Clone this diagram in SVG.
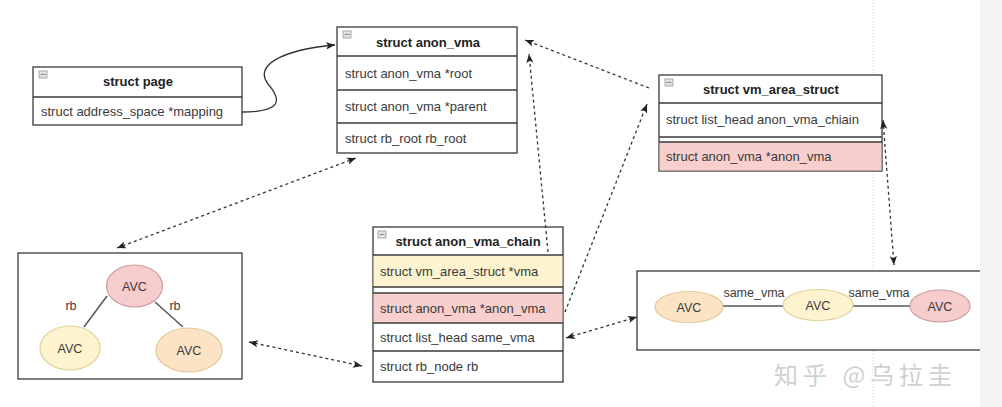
<svg xmlns="http://www.w3.org/2000/svg" width="1002" height="407" viewBox="0 0 1002 407">
<style>
.box{fill:#fff;stroke:#3a3a3a;stroke-width:1.3}
.sep{stroke:#3a3a3a;stroke-width:1.3;fill:none}
.yel{fill:#fdf3cf}
.pink{fill:#f8cfcd}
.ico{fill:#e2e2e2;stroke:#9a9a9a;stroke-width:0.8}
.t{font-family:"Liberation Sans",Arial,Helvetica,sans-serif;font-size:13px;fill:#3a3a3a}
.h{font-weight:bold;text-anchor:middle;fill:#222}
.c{text-anchor:middle;font-size:12.5px}
.conn{fill:none;stroke:#333;stroke-width:1.3;stroke-dasharray:3 3}
.solid{fill:none;stroke:#333;stroke-width:1.3}
.edge{stroke:#555;stroke-width:1.5}
.eo{fill:#fbe3c4;stroke:#e3c79a;stroke-width:1.2}
.ey{fill:#fdf3cf;stroke:#e0d296;stroke-width:1.2}
.er{fill:#f6cccc;stroke:#cf9c9c;stroke-width:1.2}
</style>
<defs>
<marker id="ah" viewBox="0 0 10 10" refX="10" refY="5" markerWidth="9" markerHeight="9" markerUnits="userSpaceOnUse" orient="auto-start-reverse">
<path d="M0,1 L10,5 L0,9 L2.5,5 Z" fill="#222"/>
</marker>
</defs>
<rect x="0" y="0" width="1002" height="407" fill="#fff"/>
<line x1="873" y1="0" x2="873" y2="407" stroke="#cfcfcf" stroke-width="1" stroke-dasharray="1 2"/>

<g id="page">
<rect class="box" x="33" y="67" width="209" height="58"/>
<line class="sep" x1="33" y1="97" x2="242" y2="97"/>
<rect class="ico" x="39" y="71" width="8" height="7"/><line x1="40.5" y1="74.5" x2="45.5" y2="74.5" stroke="#777" stroke-width="0.8"/>
<text class="t h" x="138" y="86">struct page</text>
<text class="t" x="41" y="116">struct address_space *mapping</text>
</g>

<g id="anon_vma">
<rect class="box" x="337" y="27" width="180" height="126"/>
<line class="sep" x1="337" y1="56" x2="517" y2="56"/>
<line class="sep" x1="337" y1="90" x2="517" y2="90"/>
<line class="sep" x1="337" y1="123" x2="517" y2="123"/>
<rect class="ico" x="343" y="31" width="8" height="7"/><line x1="344.5" y1="34.5" x2="349.5" y2="34.5" stroke="#777" stroke-width="0.8"/>
<text class="t h" x="428" y="47">struct anon_vma</text>
<text class="t" x="345" y="78">struct anon_vma *root</text>
<text class="t" x="345" y="111">struct anon_vma *parent</text>
<text class="t" x="345" y="143">struct rb_root rb_root</text>
</g>

<g id="vm_area_struct">
<rect class="box" x="659" y="75" width="223" height="96"/>
<rect class="pink" x="659.6" y="142" width="221.8" height="28.4"/>
<line class="sep" x1="659" y1="103" x2="882" y2="103"/>
<line class="sep" x1="659" y1="137" x2="882" y2="137"/>
<line class="sep" x1="659" y1="142" x2="882" y2="142"/>
<rect class="ico" x="665" y="79" width="8" height="7"/><line x1="666.5" y1="82.5" x2="671.5" y2="82.5" stroke="#777" stroke-width="0.8"/>
<text class="t h" x="771" y="94">struct vm_area_struct</text>
<text class="t" x="666" y="124">struct list_head anon_vma_chiain</text>
<text class="t" x="666" y="161">struct anon_vma *anon_vma</text>
</g>

<g id="anon_vma_chain">
<rect class="box" x="373" y="227" width="190" height="155"/>
<rect class="yel" x="373.6" y="255" width="188.8" height="32"/>
<rect class="pink" x="373.6" y="293" width="188.8" height="30"/>
<line class="sep" x1="373" y1="255" x2="563" y2="255"/>
<line class="sep" x1="373" y1="287" x2="563" y2="287"/>
<line class="sep" x1="373" y1="293" x2="563" y2="293"/>
<line class="sep" x1="373" y1="323" x2="563" y2="323"/>
<line class="sep" x1="373" y1="351" x2="563" y2="351"/>
<rect class="ico" x="378" y="231" width="8" height="7"/><line x1="379.5" y1="234.5" x2="384.5" y2="234.5" stroke="#777" stroke-width="0.8"/>
<text class="t h" x="468" y="246">struct anon_vma_chain</text>
<text class="t" x="380" y="276">struct vm_area_struct *vma</text>
<text class="t" x="380" y="313">struct anon_vma *anon_vma</text>
<text class="t" x="380" y="342">struct list_head same_vma</text>
<text class="t" x="380" y="371">struct rb_node rb</text>
</g>

<g id="rb_tree">
<rect class="box" x="18" y="253" width="224" height="126"/>
<line class="edge" x1="107" y1="296" x2="84" y2="327"/>
<line class="edge" x1="155" y1="302" x2="183" y2="327"/>
<ellipse class="er" cx="134.5" cy="286" rx="28" ry="21"/>
<ellipse class="ey" cx="70" cy="348" rx="30" ry="22"/>
<ellipse class="eo" cx="189" cy="350" rx="33" ry="22"/>
<text class="t c" x="134.5" y="291">AVC</text>
<text class="t c" x="70" y="353">AVC</text>
<text class="t c" x="189" y="355">AVC</text>
<text class="t c" x="71" y="310">rb</text>
<text class="t c" x="175" y="310">rb</text>
</g>

<g id="same_vma_list">
<rect class="box" x="637" y="271" width="380" height="79"/>
<line class="edge" x1="723" y1="306" x2="783" y2="306"/>
<line class="edge" x1="853" y1="306" x2="910" y2="306"/>
<ellipse class="eo" cx="689" cy="307" rx="34" ry="15.5"/>
<ellipse class="ey" cx="818" cy="305" rx="35" ry="15.5"/>
<ellipse class="er" cx="940" cy="306" rx="30" ry="16"/>
<text class="t c" x="689" y="312">AVC</text>
<text class="t c" x="818" y="310">AVC</text>
<text class="t c" x="940" y="311">AVC</text>
<text class="t c" x="754" y="297">same_vma</text>
<text class="t c" x="879" y="297">same_vma</text>
</g>

<g id="connectors">
<path class="solid" d="M242,112 C282,112 282,100 268,84 C254,66 280,50 335,45" marker-end="url(#ah)"/>
<path class="conn" d="M117,248 L356,158" marker-start="url(#ah)" marker-end="url(#ah)"/>
<path class="conn" d="M649,88 L525,40" marker-end="url(#ah)"/>
<path class="conn" d="M548,252 L529,54" marker-end="url(#ah)"/>
<path class="conn" d="M565,312 L647,104" marker-end="url(#ah)"/>
<path class="conn" d="M566,338 L637,317" marker-start="url(#ah)" marker-end="url(#ah)"/>
<path class="conn" d="M249,342 L362,366" marker-start="url(#ah)" marker-end="url(#ah)"/>
<path class="conn" d="M883,120 L894,265" marker-start="url(#ah)" marker-end="url(#ah)"/>
</g>

<rect x="980" y="0" width="22" height="407" fill="#f3f3f3"/>
<text x="774" y="384" font-family="'Noto Sans CJK SC','Noto Sans',sans-serif" font-size="24" letter-spacing="5" fill="#d0d0d0">知乎 @乌拉圭</text>
</svg>
